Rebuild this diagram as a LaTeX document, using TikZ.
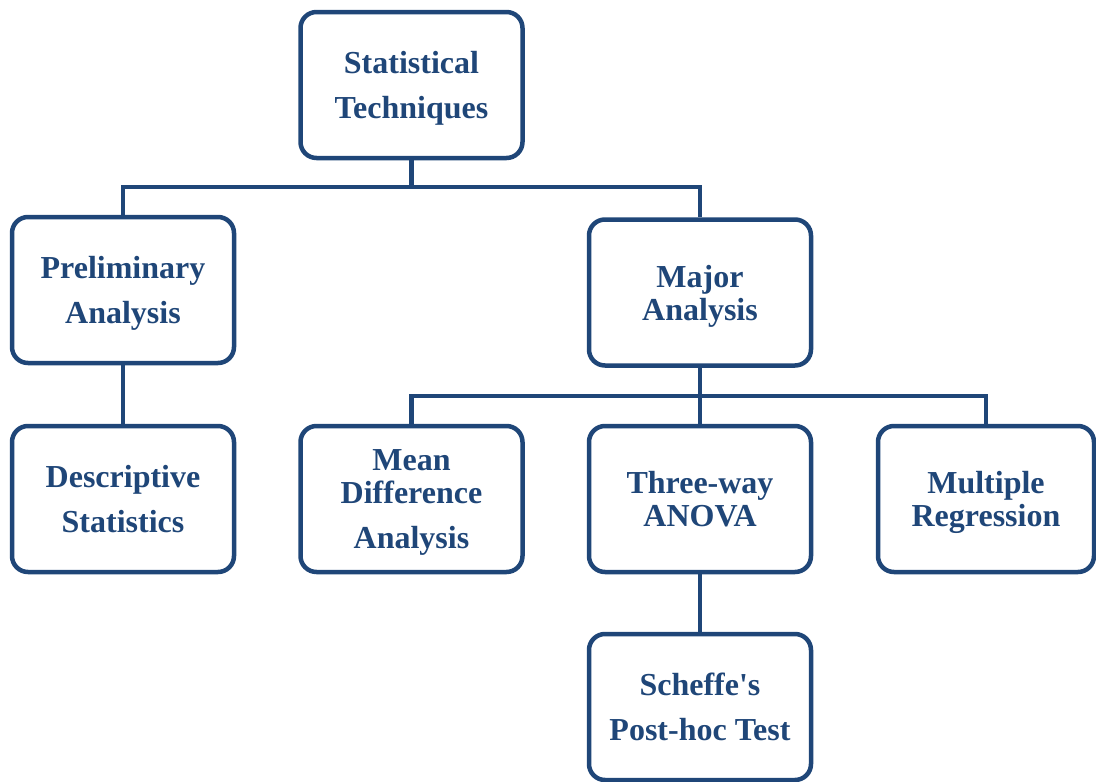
\documentclass[tikz,border=0pt]{standalone}
\usepackage{fontspec}
\setmainfont{Liberation Serif}
\definecolor{navy}{RGB}{31,70,120}
\begin{document}
\begin{tikzpicture}[x=1pt,y=-1pt,
  box/.style={draw=navy, line width=4.5pt, rounded corners=16pt, fill=white,
    minimum width=222pt, minimum height=146pt, align=center, text=navy,
    font=\fontsize{32}{45}\selectfont\bfseries, inner sep=2pt, text depth=0pt},
  link/.style={draw=navy, line width=4.5pt}]
\useasboundingbox (0,0) rectangle (1096,782);
\node[box] (st) at (411.5,85) {Statistical\\Techniques};
\node[box] (pa) at (123,290) {Preliminary\\Analysis};
\node[box] (ma) at (700,292.5) {Major\\[-12pt]Analysis};
\node[box] (ds) at (123,499) {Descriptive\\Statistics};
\node[box] (md) at (411.5,499) {Mean\\[-12pt]Difference\\Analysis};
\node[box] (ta) at (700,499) {Three-way\\[-12pt]ANOVA};
\node[box, minimum width=216pt] (mr) at (986,499) {Multiple\\[-12pt]Regression};
\node[box] (sp) at (700,707) {Scheffe\textquotesingle s\\Post-hoc Test};
\coordinate (j1) at (411.5,187);
\coordinate (j2) at (700,396);
\draw[link] (st.south) -- (j1);
\draw[link] (pa.north) |- (j1) -| (ma.north);
\draw[link] (pa.south) -- (ds.north);
\draw[link] (ma.south) -- (j2);
\draw[link] (md.north) |- (j2) -| (mr.north);
\draw[link] (j2) -- (ta.north);
\draw[link] (ta.south) -- (sp.north);
\end{tikzpicture}
\end{document}
